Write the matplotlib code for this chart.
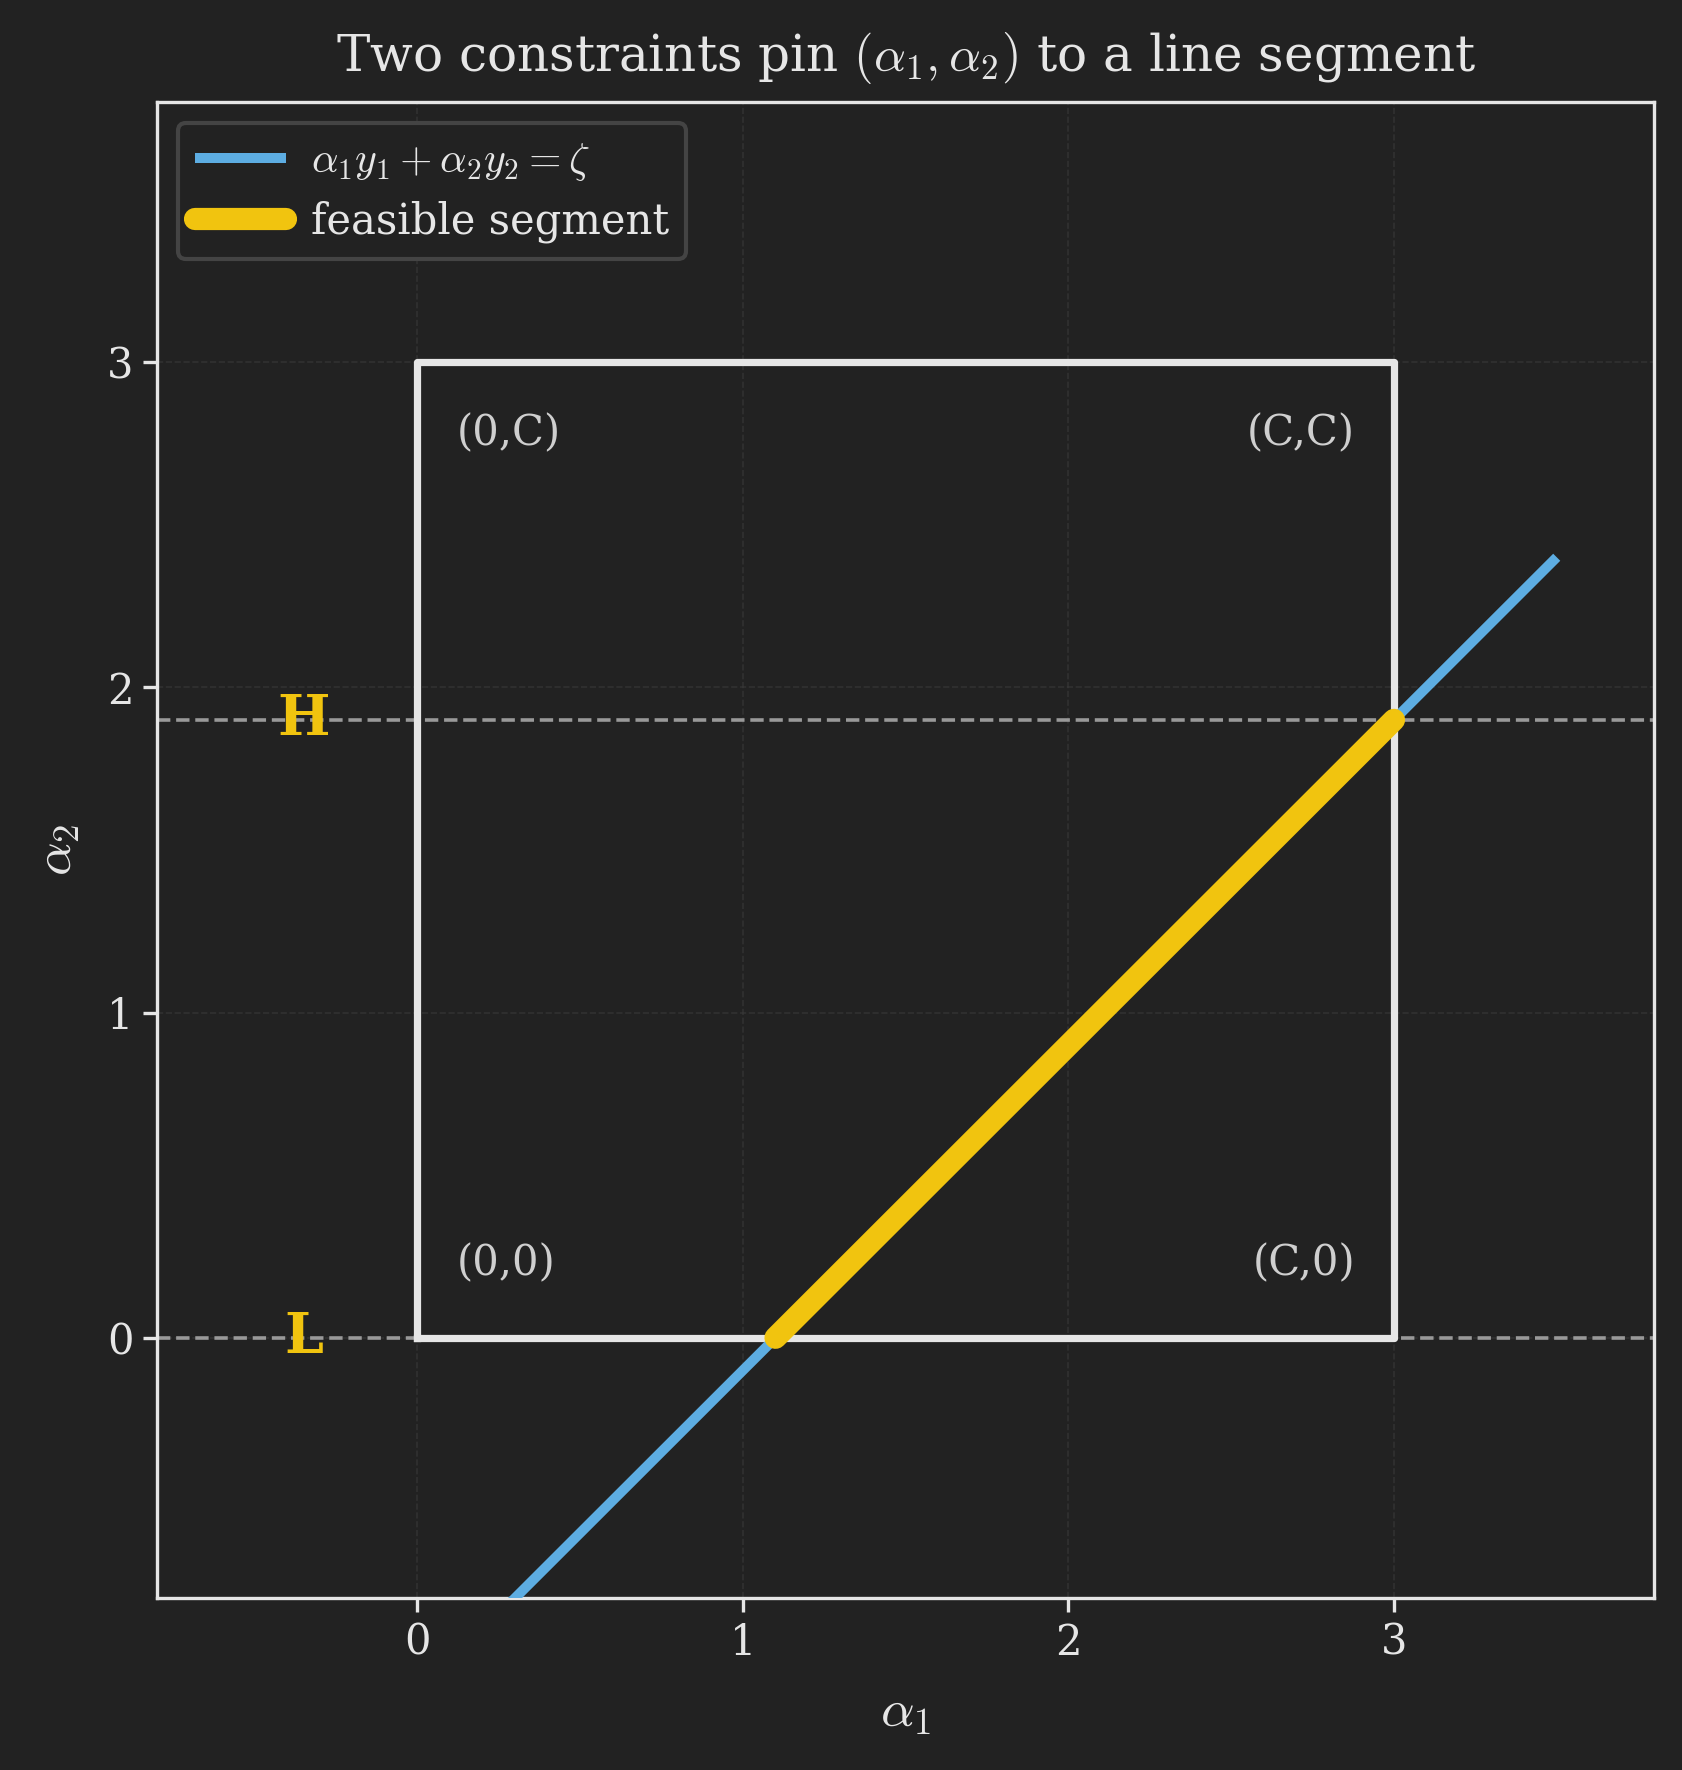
import numpy as np
import matplotlib
matplotlib.use("Agg")
import matplotlib.pyplot as plt

# データ
C = 3.0
L = 0.0
H = 1.9
zeta = -1.1            # alpha2 = alpha1 + zeta
line_x = [0.0, 3.5]
xticks = [0, 1, 2, 3]
yticks = [0, 1, 2, 3]
xlim = (-0.8, 3.8)
ylim = (-0.8, 3.8)
corner_labels = ["(0,0)", "(C,0)", "(0,C)", "(C,C)"]

BG = "#222222"
FG = "#e6e6e6"
BLUE = "#5dade2"
YELLOW = "#f1c40f"

plt.rcParams["font.family"] = ["DejaVu Serif"]
plt.rcParams["mathtext.fontset"] = "cm"

fig = plt.figure(figsize=(8.415, 8.85), dpi=200, facecolor=BG)
ax = fig.add_axes([0.0933, 0.0972, 0.8897, 0.8452])
ax.set_facecolor(BG)

# 軸と枠
for s in ax.spines.values():
    s.set_color(FG)
    s.set_linewidth(1.2)
ax.tick_params(colors=FG, labelsize=15, length=5, width=1.2)
ax.set_xlim(*xlim)
ax.set_ylim(*ylim)
ax.set_xticks(xticks)
ax.set_yticks(yticks)
ax.grid(True, color="#3a3a3a", linestyle="--", linewidth=0.6, alpha=0.6)
ax.set_axisbelow(True)

# 制約
ax.axhline(L, color="#999999", linestyle="--", linewidth=1.3, zorder=1)
ax.axhline(H, color="#999999", linestyle="--", linewidth=1.3, zorder=1)

# 箱 [0,C]x[0,C]
ax.plot([0, C, C, 0, 0], [0, 0, C, C, 0], color="#e6e6e6", linewidth=2.6, zorder=2)

# 直線
lx = np.array(line_x)
ax.plot(lx, lx + zeta, color=BLUE, linewidth=3.6, zorder=3,
        solid_capstyle="butt", label=r"$\alpha_1 y_1 + \alpha_2 y_2 = \zeta$")

# 実行可能区間
x0 = L - zeta
x1 = H - zeta
ax.plot([x0, x1], [L, H], color=YELLOW, linewidth=8, zorder=4,
        solid_capstyle="round", label="feasible segment")

# L, H ラベル
ax.text(-0.35, H, "H", color=YELLOW, fontsize=20, fontweight="bold",
        ha="center", va="center")
ax.text(-0.35, L, "L", color=YELLOW, fontsize=20, fontweight="bold",
        ha="center", va="center")

# 角ラベル
cc = "#cfcfcf"
ax.text(0.12, 0.23, corner_labels[0], color=cc, fontsize=15, ha="left", va="center")
ax.text(C - 0.12, 0.23, corner_labels[1], color=cc, fontsize=15, ha="right", va="center")
ax.text(0.12, C - 0.22, corner_labels[2], color=cc, fontsize=15, ha="left", va="center")
ax.text(C - 0.12, C - 0.22, corner_labels[3], color=cc, fontsize=15, ha="right", va="center")

ax.set_xlabel(r"$\alpha_1$", color=FG, fontsize=19, labelpad=8)
ax.set_ylabel(r"$\alpha_2$", color=FG, fontsize=19, labelpad=9)
ax.set_title(r"Two constraints pin $(\alpha_1, \alpha_2)$ to a line segment",
             color=FG, fontsize=18, pad=11)

leg = ax.legend(loc="upper left", fontsize=15, facecolor=BG, edgecolor="#444444",
                framealpha=1.0, handlelength=2.2, handletextpad=0.6,
                labelspacing=0.4)
for t in leg.get_texts():
    t.set_color(FG)
leg.get_frame().set_linewidth(1.5)

fig.savefig("out.png", dpi=200, facecolor=BG)
